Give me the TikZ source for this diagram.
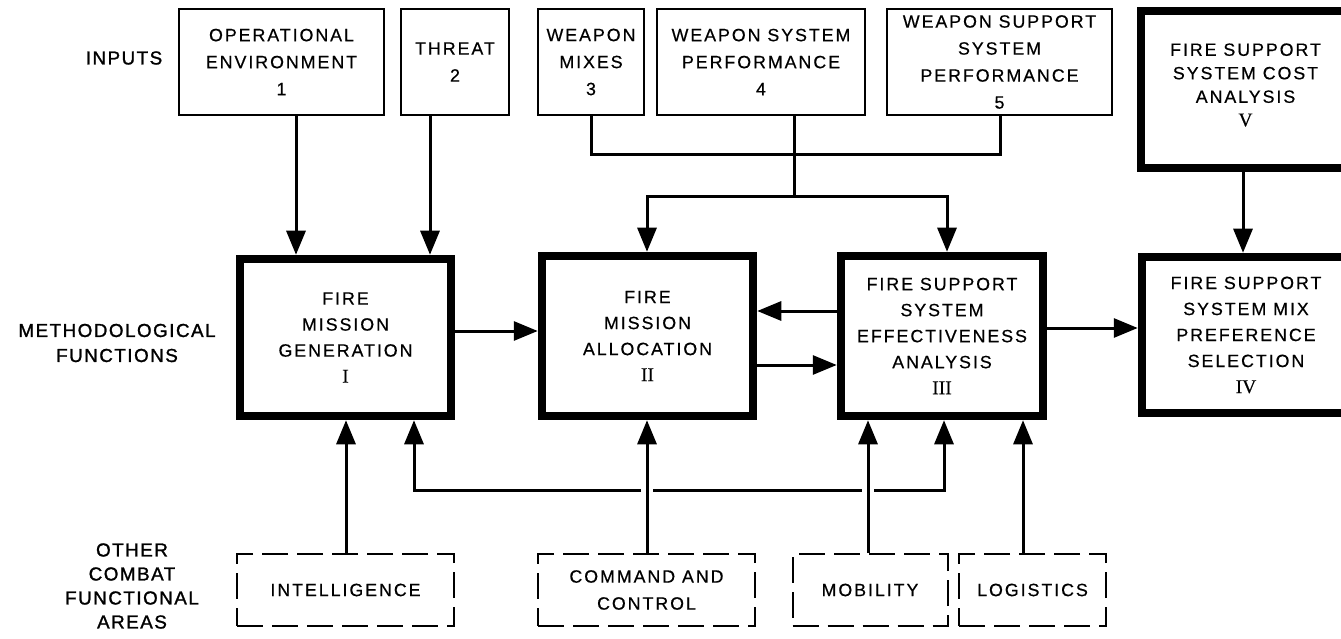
\documentclass[tikz,border=0pt]{standalone}
\usepackage{fontspec}
\usetikzlibrary{arrows.meta}
% Letter-spaced sans for the box captions, a heavier cut for the row labels,
% and a serif face for the roman step numbers.
\newfontfamily\dgsans[LetterSpace=11,FakeBold=0.5]{Liberation Sans}
\newfontfamily\dgsansb[LetterSpace=8,FakeBold=1.3]{Liberation Sans}
\newfontfamily\dgserif[FakeBold=0.4]{Liberation Serif}
\newcommand\rnum[1]{{\dgserif\fontsize{19.5}{26}\selectfont #1}}

\begin{document}
\begin{tikzpicture}[x=1pt,y=-1pt,
  txt/.style={align=center, inner sep=1pt, font=\dgsans\fontsize{17.8}{27}\selectfont},
  thin/.style={txt, draw, line width=2pt},
  thick/.style={txt, draw, line width=8.5pt, font=\dgsans\fontsize{17.8}{26}\selectfont},
  dbox/.style={txt, draw, line width=2pt, dash pattern=on 26pt off 9pt},
  lbl/.style={align=center, font=\dgsansb\fontsize{18.8}{25}\selectfont},
  conn/.style={line width=3pt},
  arr/.style={conn, -{Triangle[length=24pt,width=19pt]}}]

\useasboundingbox (0,0) rectangle (1341,639);
\fill[white] (0,0) rectangle (1341,639);
\clip (0,0) rectangle (1341,639);

% row labels
\node[lbl] (linp) at (124,58) {INPUTS};
\node[lbl] (lmeth) at (117,343) {METHODOLOGICAL\\FUNCTIONS};
\node[lbl, font=\dgsansb\fontsize{18.8}{24}\selectfont] (loth) at (132,586) {OTHER\\COMBAT\\FUNCTIONAL\\AREAS};

% inputs
\node[thin, minimum width=205pt, minimum height=106pt] (in1) at (281.5,62) {OPERATIONAL\\ENVIRONMENT\\1};
\node[thin, minimum width=108pt, minimum height=106pt] (in2) at (455,62) {THREAT\\2};
\node[thin, minimum width=106pt, minimum height=106pt] (in3) at (591,62) {WEAPON\\MIXES\\3};
\node[thin, minimum width=208pt, minimum height=106pt] (in4) at (761,62) {WEAPON SYSTEM\\PERFORMANCE\\4};
\node[thin, minimum width=225pt, minimum height=106pt] (in5) at (999.5,62) {WEAPON SUPPORT\\SYSTEM\\PERFORMANCE\\5};
\node[thick, minimum width=209pt, minimum height=157pt] (cost) at (1245.5,89.5) {};
\node[txt, font=\dgsans\fontsize{17.8}{23.5}\selectfont] (costtxt) at (1245.5,85) {FIRE SUPPORT\\SYSTEM COST\\ANALYSIS\\\rnum{V}};

% methodological functions
\node[thick, minimum width=211pt, minimum height=157pt] (gen) at (345.5,337.5) {FIRE\\MISSION\\GENERATION\\\rnum{I}};
\node[thick, minimum width=211pt, minimum height=160pt] (alloc) at (647.5,336) {FIRE\\MISSION\\ALLOCATION\\\rnum{II}};
\node[thick, minimum width=202pt, minimum height=160pt] (eff) at (942,336) {FIRE SUPPORT\\SYSTEM\\EFFECTIVENESS\\ANALYSIS\\\rnum{III}};
\node[thick, minimum width=208pt, minimum height=156pt] (sel) at (1246,335) {FIRE SUPPORT\\SYSTEM MIX\\PREFERENCE\\SELECTION\\\rnum{IV}};

% other combat functional areas
\node[dbox, minimum width=217pt, minimum height=72pt] (intel) at (345.5,590) {INTELLIGENCE};
\node[dbox, minimum width=217pt, minimum height=72pt] (cc) at (646.5,590) {COMMAND AND\\CONTROL};
\node[dbox, minimum width=155pt, minimum height=72pt] (mob) at (870,590) {MOBILITY};
\node[dbox, minimum width=147pt, minimum height=72pt] (log) at (1032.5,590) {LOGISTICS};

% connector positions
\coordinate (c1) at (296,0);
\coordinate (c2) at (430,0);
\coordinate (c3) at (591,155);
\coordinate (c4) at (794,155);
\coordinate (c5) at (1000,155);
\coordinate (sp) at (794,197);
\coordinate (spL) at (647,197);
\coordinate (spR) at (947,197);
\coordinate (cv) at (1243,0);
\coordinate (h1) at (0,331);
\coordinate (h2) at (0,311);
\coordinate (h3) at (0,365);
\coordinate (h4) at (0,328);
\coordinate (bi) at (346,0);
\coordinate (bc) at (647,0);
\coordinate (bm) at (868,0);
\coordinate (bl) at (1023,0);
\coordinate (bL) at (414,490);
\coordinate (bR) at (944,490);
\coordinate (g1) at (641,490);
\coordinate (g2) at (653,490);
\coordinate (g3) at (862,490);
\coordinate (g4) at (874,490);

% inputs into the functions
\draw[arr] (in1.south -| c1) -- (gen.north -| c1);
\draw[arr] (in2.south -| c2) -- (gen.north -| c2);
\draw[conn] (in3.south -| c3) -- (c3) -- (c5) -- (in5.south -| c5);
\draw[conn] (in4.south -| c4) -- (sp);
\draw[arr] (sp) -- (spL) -- (alloc.north -| spL);
\draw[arr] (sp) -- (spR) -- (eff.north -| spR);
\draw[arr] (cost.south -| cv) -- (sel.north -| cv);

% flow between the functions
\draw[arr] (gen.east |- h1) -- (alloc.west |- h1);
\draw[arr] (eff.west |- h2) -- (alloc.east |- h2);
\draw[arr] (alloc.east |- h3) -- (eff.west |- h3);
\draw[arr] (eff.east |- h4) -- (sel.west |- h4);

% combat functional areas feeding upward
\draw[arr] (intel.north -| bi) -- (gen.south -| bi);
\draw[arr] (cc.north -| bc) -- (alloc.south -| bc);
\draw[arr] (mob.north -| bm) -- (eff.south -| bm);
\draw[arr] (log.north -| bl) -- (eff.south -| bl);

% feedback bus between I and III, broken where it crosses
\draw[arr] (g1) -- (bL) -- (gen.south -| bL);
\draw[conn] (g2) -- (g3);
\draw[arr] (g4) -- (bR) -- (eff.south -| bR);
\end{tikzpicture}
\end{document}
